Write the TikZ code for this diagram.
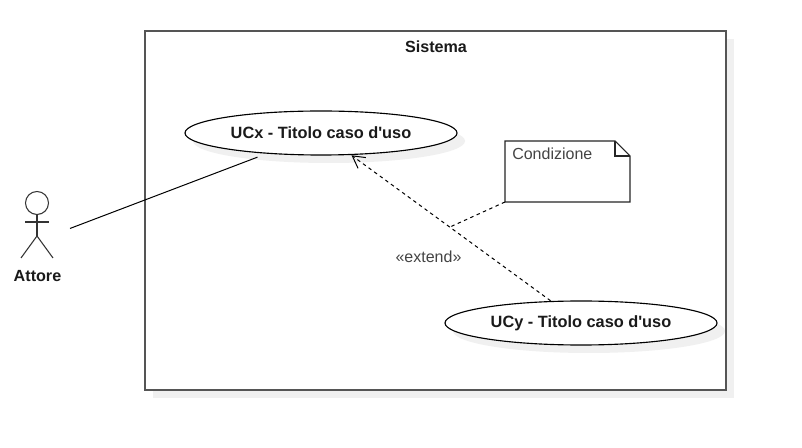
\documentclass[tikz,border=0pt]{standalone}
\usepackage{fontspec}
\setmainfont{Liberation Sans}
\usetikzlibrary{arrows.meta,shapes.geometric}
\definecolor{shadowc}{HTML}{F0F0F0}
\definecolor{framec}{HTML}{555555}
\definecolor{textc}{HTML}{1A1A1A}
\definecolor{softc}{HTML}{444444}
\tikzset{
  px/.style={x=0.75pt,y=-0.75pt},
  usecase/.style={ellipse,draw=black,fill=white,line width=0.85pt,minimum width=204pt,minimum height=33pt,inner sep=0pt,outer sep=0pt,font=\fontsize{12.25pt}{14pt}\selectfont\bfseries,text=textc},
  usecaseshadow/.style={ellipse,fill=shadowc,minimum width=204pt,minimum height=33pt,inner sep=0pt,outer sep=0pt},
  frameline/.style={draw=framec,line width=1.1pt},
  actorline/.style={draw=black!80,line width=0.8pt},
  link/.style={draw=black,line width=0.75pt},
  dashlink/.style={draw=black,line width=0.75pt,dash pattern=on 2.6pt off 2.6pt},
  ghost/.style={inner sep=0pt,outer sep=0pt,draw=none},
  boldlabel/.style={font=\fontsize{12.1pt}{14pt}\selectfont\bfseries,text=textc,inner sep=0pt},
  softlabel/.style={font=\fontsize{12pt}{14pt}\selectfont,text=softc,inner sep=0pt},
}
\begin{document}
\begin{tikzpicture}[px]
\useasboundingbox (0,0) rectangle (802,448);
\fill[white] (0,0) rectangle (802,448);
% system
\fill[shadowc] (153,39) rectangle (734,398);
\node[ghost,frameline,fill=white,minimum width=435.75pt,minimum height=269.25pt] (sistema) at (435.5,210.5) {};
\node[boldlabel] (sistemalabel) at (436,46.5) {Sistema};
% use cases
\node[usecaseshadow] (ucxshadow) at (329,141) {};
\node[usecaseshadow] (ucyshadow) at (589,331) {};
\node[usecase] (ucx) at (321,133) {UCx - Titolo caso d\textquotesingle uso};
\node[usecase] (ucy) at (581,323) {UCy - Titolo caso d\textquotesingle uso};
% note
\node[ghost,minimum width=93.75pt,minimum height=45.75pt] (note) at (567.5,171.5) {};
\draw[draw=black!85,line width=0.8pt,fill=white,line join=miter]
  (note.north west) -- ([xshift=-11.25pt]note.north east) -- ([yshift=-11.25pt]note.north east)
  -- (note.south east) -- (note.south west) -- cycle;
\draw[draw=black!85,line width=0.8pt]
  ([xshift=-11.25pt]note.north east) -- ([xshift=-11.25pt,yshift=-11.25pt]note.north east) -- ([yshift=-11.25pt]note.north east);
\node[softlabel,anchor=base west] (notelabel) at (512,159.5) {Condizione};
% actor
\node[ghost,minimum width=49.5pt,minimum height=75pt] (actor) at (37,241) {};
\node[circle,actorline,fill=white,minimum size=17.25pt,inner sep=0pt,outer sep=0pt] (head) at (37,203) {};
\coordinate (shoulderL) at (25,222);
\coordinate (shoulderR) at (49,222);
\coordinate (hip) at (37,236);
\coordinate (footL) at (21,258);
\coordinate (footR) at (53,258);
\draw[actorline] (head.south) -- (hip);
\draw[actorline] (shoulderL) -- (shoulderR);
\draw[actorline] (footL) -- (hip) -- (footR);
\node[boldlabel] (actorlabel) at (37.5,276) {Attore};
% connectors
\draw[link,shorten >=8.3pt] (actor) -- (ucx);
\draw[dashlink,shorten <=1pt,shorten >=1pt,-{Straight Barb[length=9pt,width=10pt,line width=0.75pt]}] (ucy) -- (ucx);
\coordinate (junction) at (450,227);
\draw[dashlink] (note.south west) -- (junction);
\node[softlabel] (extendlabel) at (428.5,256.5) {«extend»};
\end{tikzpicture}
\end{document}
